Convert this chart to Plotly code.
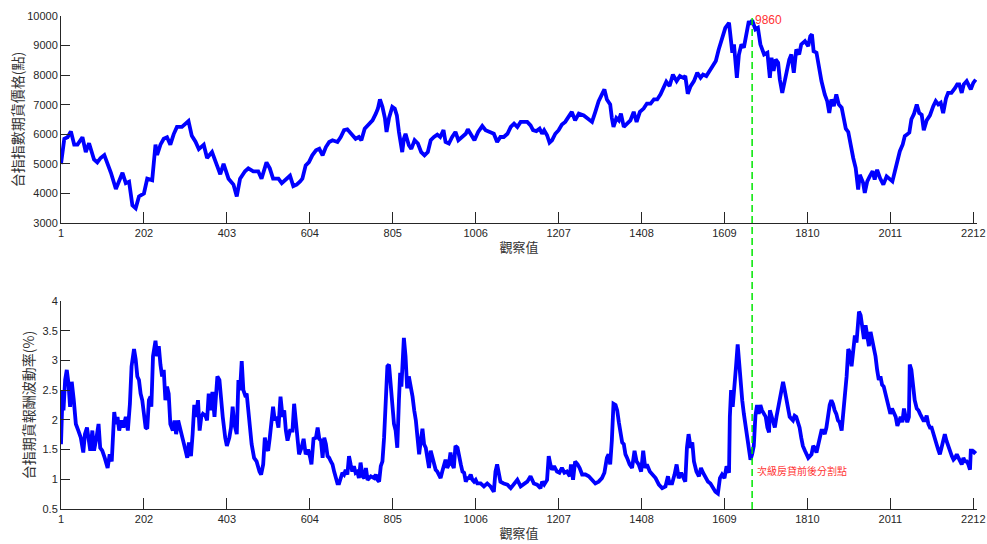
import plotly.graph_objects as go
from plotly.subplots import make_subplots

# 台指期貨價格 (觀察值序號, 價格點數)
price_obs = [1, 5, 9, 17, 25, 33, 41, 53, 61, 69, 81, 89, 97, 106, 114, 122, 134, 142, 150, 158,
             166, 174, 182, 190, 202, 210, 222, 230, 234, 242, 250, 258, 266, 274, 282, 294, 302, 310,
             318, 327, 335, 347, 355, 367, 379, 387, 395, 407, 419, 427, 435, 447, 455, 467, 479, 487,
             499, 507, 515, 528, 536, 548, 556, 564, 572, 580, 586, 594, 602, 610, 619, 627, 635, 643,
             651, 659, 671, 679, 687, 695, 707, 715, 723, 729, 737, 748, 756, 764, 769, 774, 780, 786,
             790, 796, 804, 810, 815, 820, 824, 828, 832, 836, 844, 850, 858, 866, 874, 882, 890, 897,
             905, 913, 920, 928, 933, 941, 949, 957, 964, 974, 982, 987, 995, 1003, 1012, 1022, 1030,
             1041, 1050, 1058, 1066, 1074, 1083, 1091, 1099, 1107, 1115, 1123, 1131, 1139, 1145, 1153,
             1161, 1167, 1172, 1179, 1185, 1191, 1199, 1207, 1215, 1223, 1231, 1239, 1247, 1256, 1268,
             1280, 1288, 1296, 1304, 1312, 1318, 1324, 1332, 1336, 1340, 1347, 1353, 1358, 1365, 1373,
             1381, 1389, 1396, 1404, 1413, 1421, 1430, 1438, 1446, 1454, 1462, 1468, 1476, 1484, 1493,
             1501, 1509, 1514, 1520, 1527, 1535, 1543, 1551, 1557, 1565, 1573, 1582, 1588, 1595, 1603,
             1611, 1620, 1624, 1628, 1632, 1636, 1639, 1644, 1650, 1656, 1662, 1668, 1672, 1676, 1684,
             1690, 1696, 1705, 1713, 1719, 1723, 1728, 1733, 1739, 1743, 1749, 1755, 1761, 1766, 1771,
             1777, 1783, 1790, 1795, 1804, 1812, 1817, 1821, 1825, 1832, 1838, 1844, 1852, 1858, 1863,
             1868, 1874, 1880, 1886, 1893, 1898, 1903, 1909, 1913, 1917, 1921, 1927, 1931, 1933, 1937,
             1941, 1945, 1949, 1955, 1961, 1968, 1973, 1979, 1986, 1994, 2002, 2010, 2016, 2022, 2028,
             2034, 2041, 2046, 2052, 2057, 2062, 2068, 2075, 2081, 2087, 2092, 2099, 2107, 2115, 2121,
             2127, 2133, 2139, 2146, 2151, 2159, 2168, 2173, 2178, 2184, 2189, 2196, 2202, 2206, 2212,
             2218]
price_val = [5000, 5500, 5850, 5900, 6100, 5650, 5650, 5900, 5400, 5700, 5150, 5050, 5200, 5300, 5000,
             4700, 4150, 4400, 4700, 4350, 4400, 3600, 3500, 3900, 4000, 4500, 4450, 5650, 5300, 5650,
             5850, 5900, 5650, 6000, 6250, 6250, 6350, 6450, 5950, 5750, 5500, 5650, 5200, 5400, 4950,
             4650, 5000, 4500, 4300, 3900, 4500, 4750, 4850, 4750, 4750, 4500, 5050, 4850, 4500, 4500,
             4350, 4500, 4600, 4250, 4300, 4400, 4500, 4950, 5060, 5290, 5460, 5510, 5290, 5570, 5740,
             5800, 5740, 5910, 6140, 6170, 5970, 5850, 5910, 5800, 6190, 6360, 6470, 6700, 6870, 7180,
             6930, 6550, 6080, 6550, 6930, 6870, 6640, 6080, 5800, 5400, 5850, 6020, 5630, 5510, 5800,
             5690, 5400, 5290, 5400, 5800, 5910, 5990, 5910, 6140, 5740, 5690, 5910, 6080, 5800, 5910,
             6020, 6170, 5970, 5800, 6080, 6280, 6140, 6080, 6020, 5740, 5910, 5910, 6020, 6250, 6360,
             6250, 6420, 6420, 6420, 6300, 6140, 6110, 6190, 6020, 6140, 5970, 5720, 5800, 6020, 6140,
             6330, 6420, 6590, 6760, 6470, 6700, 6640, 6530, 6420, 6760, 7120, 7350, 7520, 7180, 7010,
             6550, 6250, 6550, 6470, 6700, 6250, 6360, 6470, 6760, 6420, 6760, 6870, 7040, 7040, 7180,
             7180, 7350, 7570, 7780, 7630, 8020, 7800, 7970, 7910, 7970, 7370, 7630, 7800, 8080, 7910,
             8020, 7970, 8140, 8310, 8480, 8870, 9270, 9600, 9770, 9270, 8760, 9040, 8360, 7910, 8700,
             9040, 8930, 9320, 9830, 9720, 9860, 9550, 9600, 9040, 8700, 8760, 7910, 8590, 8140, 8530,
             8420, 7860, 7400, 7800, 8200, 8530, 8700, 8080, 8870, 8700, 9040, 9150, 8980, 9320, 9380,
             8810, 8760, 8250, 7800, 7350, 7120, 6720, 7180, 6950, 7350, 7010, 6900, 6550, 6190, 6080,
             5740, 5510, 5200, 4860, 4470, 4130, 4630, 4470, 4360, 4020, 4410, 4580, 4750, 4470, 4800,
             4520, 4300, 4580, 4470, 4410, 4750, 5090, 5430, 5660, 5940, 6000, 6060, 6510, 6680, 7010,
             6720, 6660, 6140, 6470, 6640, 6950, 7120, 7010, 7070, 6720, 7220, 7400, 7400, 7570, 7690,
             7690, 7400, 7690, 7800, 7630, 7520, 7740, 7850]

# 台指期貨報酬波動率 (觀察值序號, %)
vol_obs = [1, 5, 7, 11, 15, 19, 23, 27, 32, 37, 43, 49, 55, 59, 64, 68, 72, 77, 81, 87, 92, 96, 101,
           107, 114, 119, 124, 130, 134, 138, 142, 147, 152, 158, 163, 168, 172, 178, 182, 186, 190,
           194, 198, 202, 206, 210, 214, 218, 220, 224, 230, 234, 238, 242, 246, 250, 254, 258, 262,
           266, 272, 276, 280, 285, 290, 297, 303, 307, 311, 316, 320, 324, 328, 333, 337, 341, 345,
           351, 355, 359, 363, 368, 373, 377, 380, 385, 389, 393, 399, 403, 409, 413, 417, 421, 427,
           431, 435, 439, 443, 447, 451, 455, 459, 463, 469, 475, 482, 486, 491, 495, 499, 503, 507,
           511, 515, 519, 523, 528, 533, 538, 542, 546, 550, 556, 562, 566, 570, 574, 578, 584, 589,
           594, 600, 605, 608, 613, 619, 623, 627, 631, 635, 639, 643, 647, 651, 655, 659, 663, 667,
           671, 675, 679, 683, 687, 691, 695, 699, 703, 707, 711, 715, 719, 723, 727, 732, 736, 740,
           744, 752, 760, 764, 768, 772, 776, 780, 784, 788, 792, 796, 800, 804, 808, 812, 816, 820,
           823, 826, 829, 832, 836, 840, 844, 849, 853, 857, 861, 865, 869, 873, 877, 881, 885, 889,
           893, 897, 901, 905, 909, 913, 917, 921, 925, 929, 933, 937, 941, 945, 949, 953, 957, 962,
           966, 970, 974, 978, 982, 986, 990, 994, 998, 1002, 1006, 1010, 1018, 1026, 1034, 1042,
           1050, 1054, 1058, 1062, 1066, 1074, 1083, 1091, 1099, 1107, 1115, 1123, 1131, 1139, 1147,
           1155, 1163, 1167, 1172, 1179, 1183, 1187, 1191, 1196, 1203, 1209, 1215, 1221, 1227, 1234,
           1237, 1242, 1247, 1253, 1258, 1264, 1272, 1280, 1288, 1296, 1304, 1312, 1318, 1324, 1328,
           1332, 1336, 1340, 1345, 1349, 1353, 1357, 1361, 1365, 1369, 1373, 1379, 1385, 1391, 1396,
           1401, 1407, 1412, 1417, 1421, 1428, 1434, 1442, 1450, 1458, 1466, 1472, 1476, 1482, 1488,
           1493, 1498, 1504, 1510, 1514, 1518, 1522, 1527, 1531, 1535, 1541, 1547, 1552, 1557, 1563,
           1569, 1575, 1582, 1587, 1593, 1598, 1603, 1609, 1614, 1620, 1622, 1625, 1629, 1633, 1637,
           1641, 1644, 1648, 1652, 1656, 1660, 1664, 1668, 1672, 1676, 1680, 1684, 1688, 1692, 1696,
           1700, 1705, 1709, 1713, 1717, 1719, 1723, 1727, 1731, 1735, 1739, 1743, 1747, 1751, 1755,
           1759, 1763, 1767, 1771, 1775, 1779, 1783, 1787, 1791, 1795, 1799, 1804, 1808, 1812, 1816,
           1820, 1824, 1828, 1832, 1836, 1840, 1844, 1848, 1852, 1856, 1860, 1864, 1868, 1872, 1876,
           1880, 1884, 1888, 1893, 1897, 1901, 1905, 1909, 1913, 1917, 1921, 1925, 1929, 1933, 1935,
           1939, 1943, 1947, 1951, 1955, 1959, 1963, 1967, 1971, 1975, 1979, 1983, 1987, 1991, 1995,
           1999, 2003, 2007, 2011, 2015, 2020, 2024, 2028, 2032, 2036, 2040, 2044, 2048, 2052, 2056,
           2058, 2062, 2066, 2070, 2075, 2079, 2083, 2087, 2091, 2095, 2099, 2103, 2107, 2111, 2115,
           2119, 2123, 2127, 2131, 2135, 2139, 2143, 2147, 2151, 2155, 2160, 2164, 2168, 2172, 2176,
           2180, 2184, 2188, 2192, 2196, 2200, 2204, 2206, 2210, 2214, 2218]
vol_val = [1.59, 2.50, 2.16, 2.67, 2.84, 2.62, 2.22, 2.64, 2.33, 1.93, 1.82, 1.70, 1.45, 1.76, 1.87,
           1.70, 1.48, 1.82, 1.48, 1.70, 1.93, 1.53, 1.48, 1.36, 1.19, 1.42, 1.30, 2.13, 1.93, 2.05,
           1.82, 1.99, 1.87, 2.05, 1.82, 2.27, 2.90, 3.19, 3.02, 2.73, 2.67, 2.44, 2.33, 2.10, 1.87,
           1.85, 2.33, 2.39, 2.22, 3.07, 3.33, 3.07, 3.24, 2.93, 2.73, 2.84, 2.33, 2.56, 2.44, 1.93,
           1.82, 1.99, 1.76, 1.99, 1.87, 1.65, 1.48, 1.36, 1.62, 1.39, 1.76, 2.25, 2.05, 2.33, 1.82,
           2.05, 2.10, 2.07, 1.99, 2.44, 2.16, 2.47, 2.05, 2.39, 2.73, 2.67, 2.33, 2.05, 1.70, 1.56,
           1.70, 1.87, 2.22, 1.93, 1.76, 2.67, 2.50, 2.99, 2.50, 2.42, 2.44, 2.10, 1.82, 1.59, 1.36,
           1.30, 1.13, 1.08, 1.25, 1.70, 1.53, 1.48, 1.70, 2.05, 2.22, 1.99, 2.05, 1.87, 2.39, 2.05,
           2.16, 1.82, 1.65, 1.82, 1.82, 2.27, 1.99, 1.76, 1.42, 1.53, 1.68, 1.42, 1.50, 1.36, 1.25,
           1.68, 1.70, 1.87, 1.68, 1.65, 1.36, 1.70, 1.59, 1.39, 1.36, 1.30, 1.25, 1.13, 1.02, 0.93,
           0.93, 1.02, 1.11, 1.08, 1.16, 1.08, 1.39, 1.25, 1.13, 1.22, 1.11, 1.13, 1.02, 1.28, 1.05,
           1.02, 1.19, 0.99, 1.05, 1.02, 1.08, 0.99, 0.96, 1.22, 1.30, 1.70, 2.50, 2.90, 2.93, 2.56,
           2.16, 1.93, 1.82, 1.53, 2.33, 2.79, 2.56, 2.96, 3.38, 3.07, 2.53, 2.73, 2.56, 2.39, 2.16,
           1.99, 1.70, 1.42, 1.65, 1.85, 1.59, 1.53, 1.36, 1.19, 1.48, 1.36, 1.25, 1.16, 1.13, 1.08,
           1.02, 1.13, 1.22, 1.33, 1.19, 1.25, 1.45, 1.25, 1.19, 1.56, 1.53, 1.42, 1.25, 1.13, 1.11,
           0.96, 1.02, 1.02, 1.08, 0.99, 0.96, 0.99, 0.93, 0.93, 0.88, 0.93, 0.88, 0.79, 1.13, 1.25,
           1.08, 0.96, 0.93, 0.91, 0.85, 0.91, 0.99, 0.88, 0.93, 0.96, 1.05, 0.93, 0.91, 0.85, 0.96,
           0.91, 0.99, 1.39, 1.25, 1.16, 1.22, 1.13, 1.11, 1.19, 1.11, 1.13, 1.05, 1.25, 0.99, 1.30,
           1.25, 1.19, 1.08, 1.08, 1.05, 0.99, 0.93, 0.96, 1.02, 1.11, 1.36, 1.42, 1.25, 1.65, 2.27,
           2.25, 2.16, 1.96, 1.76, 1.62, 1.59, 1.42, 1.36, 1.25, 1.19, 1.48, 1.30, 1.25, 1.13, 1.48,
           1.19, 1.25, 1.13, 1.08, 1.02, 0.91, 0.85, 0.88, 1.05, 0.93, 0.93, 1.08, 1.25, 1.02, 1.11,
           1.02, 0.96, 1.53, 1.76, 1.53, 1.62, 1.30, 1.13, 1.05, 1.19, 1.11, 1.02, 0.96, 0.93, 0.85,
           0.79, 0.76, 1.02, 1.08, 1.02, 1.22, 1.11, 2.05, 2.50, 2.22, 2.50, 2.90, 3.27, 2.96, 2.56,
           2.33, 2.10, 1.93, 1.70, 1.53, 1.33, 1.42, 1.56, 2.07, 2.25, 2.10, 2.25, 2.16, 2.10, 2.05,
           1.87, 1.79, 2.16, 2.07, 1.99, 1.87, 2.05, 2.22, 2.33, 2.50, 2.64, 2.50, 2.33, 2.16, 2.05,
           2.02, 1.99, 2.07, 2.05, 1.96, 1.87, 1.70, 1.56, 1.48, 1.42, 1.36, 1.39, 1.42, 1.56, 1.53,
           1.45, 1.59, 1.70, 1.82, 1.82, 1.76, 1.87, 2.10, 2.25, 2.33, 2.27, 2.16, 2.10, 1.99, 1.96,
           1.82, 2.10, 2.50, 2.73, 3.19, 3.13, 2.90, 3.19, 3.42, 3.30, 3.59, 3.82, 3.76, 3.48, 3.36,
           3.59, 3.36, 3.24, 3.48, 3.36, 3.21, 3.07, 2.84, 2.67, 2.73, 2.59, 2.56, 2.44, 2.39, 2.22,
           2.10, 2.19, 2.10, 2.05, 1.90, 1.96, 2.05, 1.96, 2.19, 2.05, 1.96, 2.05, 2.93, 2.84, 2.56,
           2.33, 2.19, 2.16, 2.10, 2.05, 1.99, 1.99, 2.07, 1.93, 1.87, 1.87, 1.76, 1.65, 1.59, 1.50,
           1.42, 1.53, 1.68, 1.76, 1.65, 1.56, 1.50, 1.39, 1.33, 1.36, 1.42, 1.36, 1.28, 1.25, 1.36,
           1.30, 1.30, 1.25, 1.16, 1.48, 1.48, 1.45, 1.48]

# 刻度與分割點
x_ticks = [1, 202, 403, 604, 805, 1006, 1207, 1408, 1609, 1810, 2011, 2212]
price_ticks = [3000, 4000, 5000, 6000, 7000, 8000, 9000, 10000]
price_tick_text = ["3000", "4000", "5000", "6000", "7000", "8000", "9000", "10000"]
vol_ticks = [0.5, 1, 1.5, 2, 2.5, 3, 3.5, 4]
vol_tick_text = ["0.5", "1", "1.5", "2", "2.5", "3", "3.5", "4"]
split_obs = 1676
peak_value = 9860

LATIN = "Liberation Sans, Arial, sans-serif"
CJK = "Noto Sans CJK TC, Noto Sans CJK SC, sans-serif"

fig = make_subplots(rows=2, cols=1, vertical_spacing=0.158)
fig.update_layout(
    yaxis=dict(domain=[0.580, 1.0]),
    yaxis2=dict(domain=[0.0, 0.422]),
)

fig.add_trace(go.Scatter(x=price_obs, y=price_val, mode="lines",
                         line=dict(color="#0000ff", width=3.8), hoverinfo="skip"),
              row=1, col=1)
fig.add_trace(go.Scatter(x=vol_obs, y=vol_val, mode="lines",
                         line=dict(color="#0000ff", width=3.8), hoverinfo="skip"),
              row=2, col=1)

axis_common = dict(showline=True, linecolor="#262626", linewidth=1, ticks="inside",
                   tickcolor="#262626", showgrid=False, zeroline=False, mirror=False,
                   tickfont=dict(family=LATIN, size=11, color="#262626"), automargin=False)

for r in (1, 2):
    fig.update_xaxes(range=[1, 2221], tickvals=x_ticks, ticklen=11,
                     title=dict(text="觀察值", font=dict(family=CJK, size=13, color="#333333"),
                                standoff=4),
                     row=r, col=1, **axis_common)

fig.update_yaxes(range=[3000, 10000], tickvals=price_ticks, ticktext=price_tick_text, ticklen=9,
                 title=dict(text="台指指數期貨價格(點)",
                            font=dict(family=CJK, size=14, color="#333333"), standoff=0),
                 row=1, col=1, **axis_common)
fig.update_yaxes(range=[0.5, 4], tickvals=vol_ticks, ticktext=vol_tick_text, ticklen=9,
                 title=dict(text="台指期貨報酬波動率(%)",
                            font=dict(family=CJK, size=14, color="#333333"), standoff=4),
                 row=2, col=1, **axis_common)

# 次級房貸分割線 (貫穿上下兩圖)
fig.add_shape(type="line", xref="x", yref="paper", x0=split_obs, x1=split_obs, y0=0, y1=1,
              line=dict(color="#00e600", width=1.5, dash="7px,4px"))

fig.add_annotation(x=split_obs, y=peak_value, xref="x", yref="y", text=str(peak_value),
                   showarrow=False, xanchor="left", yanchor="middle", xshift=1,
                   font=dict(family=LATIN, size=12, color="#ff3333"))
fig.add_annotation(x=split_obs, y=1.155, xref="x2", yref="y2", text="次級房貸前後分割點",
                   showarrow=False, xanchor="left", yanchor="middle", xshift=3,
                   font=dict(family=CJK, size=10, color="#ff3333"))

fig.update_layout(width=987, height=544, margin=dict(l=61, r=10, t=16, b=35),
                  paper_bgcolor="white", plot_bgcolor="white", showlegend=False)

fig.write_html("out.html")
